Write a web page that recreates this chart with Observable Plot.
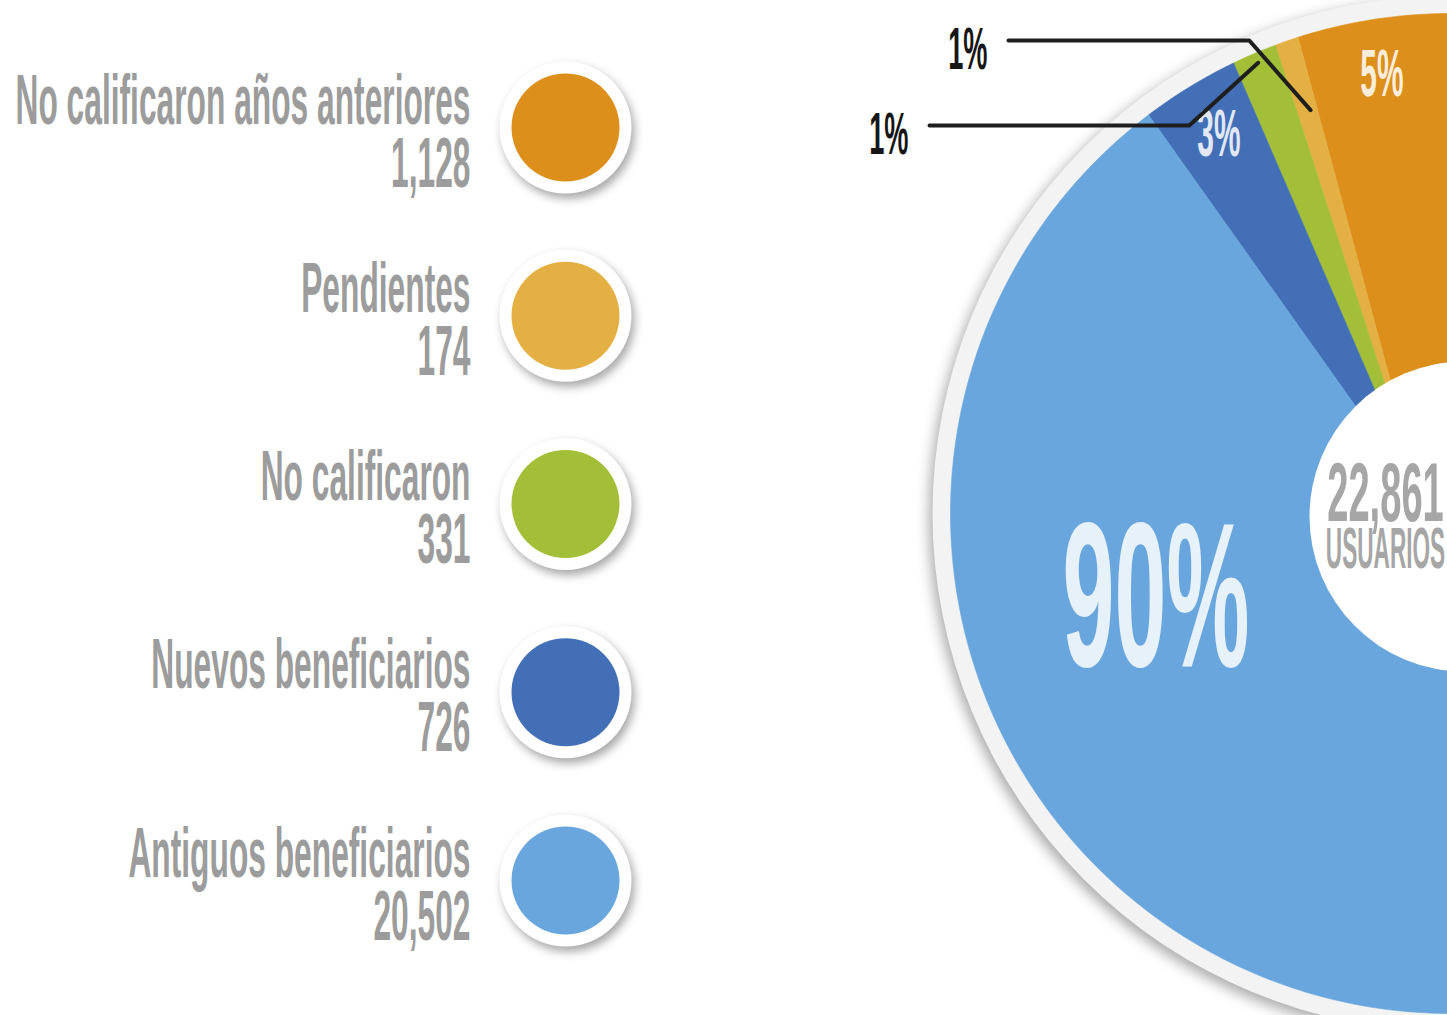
<!DOCTYPE html>
<html>
<head>
<meta charset="utf-8">
<script src="https://cdn.jsdelivr.net/npm/d3@7"></script>
<script src="https://cdn.jsdelivr.net/npm/@observablehq/plot@0.6"></script>
<style>
  html, body { margin: 0; padding: 0; background: #ffffff; overflow: hidden; }
  #chart svg { display: block; overflow: hidden; }
</style>
</head>
<body>
<div id="chart"></div>
<script>
// ---------------- data ----------------
const categories = [
  "No calificaron años anteriores",
  "Pendientes",
  "No calificaron",
  "Nuevos beneficiarios",
  "Antiguos beneficiarios"
];
const values = [1128, 174, 331, 726, 20502];
const colors = ["#dd8f1c", "#e5b043", "#a3bf37", "#436fb6", "#68a6dd"];
const centerLabel = "USUARIOS";

// ---------------- layout ----------------
const W = 1447, H = 1015;
const pieCenter = {x: 1450, y: 513};
const apex = {x: 1422, y: 500};          // where inner slice edges meet (hidden under the hole)
const R = 500, ringR = 518;
const hole = {x: 1464, y: 516, r: 155};
const labelR = 444;
const bigLabel = {angle: -106.4 * Math.PI / 180, r: 307};
const callouts = [
  {lineY: 40, endR: 427, textX: 987, slope: 0.88},
  {lineY: 125, endR: 490, textX: 908, slope: 1.1}
];
const legend = {x: 565, top: 127, step: 188.25, textX: 470, widest: 455};
const font = "'Liberation Sans Narrow', 'Liberation Sans', Arial, sans-serif";
const grey = "#9c9c9c";

const total = d3.sum(values);
const fmt = d3.format(",");
const pct = v => Math.round(v / total * 100) + "%";

const arcs = d3.pie().sort(null).startAngle(0).endAngle(-2 * Math.PI)(values);
const polar = (a, r) => ({x: pieCenter.x + r * Math.sin(a), y: pieCenter.y - r * Math.cos(a)});
const mid = a => (a.startAngle + a.endAngle) / 2;

// slice polygons
const slicePoints = [];
arcs.forEach((a, i) => {
  const key = categories[i];
  const p0 = i === 0 ? pieCenter : apex;
  const p1 = i === arcs.length - 1 ? pieCenter : apex;
  slicePoints.push({key, x: p0.x, y: p0.y});
  const n = Math.max(2, Math.ceil(Math.abs(a.endAngle - a.startAngle) / (Math.PI / 360)));
  for (let j = 0; j <= n; j++) {
    const t = a.startAngle + (a.endAngle - a.startAngle) * j / n;
    slicePoints.push({key, ...polar(t, R)});
  }
  slicePoints.push({key, x: p1.x, y: p1.y});
  if (p1 !== p0) slicePoints.push({key, x: p0.x, y: p0.y});
});

// inside labels
const insideLabels = [];
const smallSlices = [];
arcs.forEach((a, i) => {
  const share = values[i] / total;
  const light = d3.interpolateRgb(colors[i], "#ffffff")(0.84);
  if (share > 0.5) {
    insideLabels.push({text: pct(values[i]), ...polar(bigLabel.angle, bigLabel.r), size: 206, color: light});
  } else if (share >= 0.025) {
    insideLabels.push({text: pct(values[i]), ...polar(mid(a), labelR), size: 66, color: light});
  } else {
    smallSlices.push(i);
  }
});

// callouts for small slices
const calloutLines = [];
const calloutTexts = [];
smallSlices.forEach((i, k) => {
  const c = callouts[k];
  const end = polar(mid(arcs[i]), c.endR);
  const elbow = {x: end.x - Math.abs(end.y - c.lineY) * c.slope, y: c.lineY};
  const start = {x: c.textX + 21, y: c.lineY};
  [start, elbow, end].forEach(p => calloutLines.push({key: categories[i], ...p}));
  calloutTexts.push({text: pct(values[i]), x: c.textX, y: c.lineY + 9});
});

// legend rows
const legendRows = categories.map((key, i) => ({
  key, value: values[i], x: legend.x, y: legend.top + i * legend.step, tx: legend.textX
}));

// marks, each tagged with a role used for post-styling
const tagged = [
  ["ring", Plot.dot([pieCenter], {x: "x", y: "y", r: ringR, fill: "#f3f3f3", stroke: "none"})],
  ["", Plot.line(slicePoints, {x: "x", y: "y", z: "key", fill: "key", stroke: "key", strokeWidth: 0.6, curve: "linear"})],
  ["", Plot.dot([hole], {x: "x", y: "y", r: hole.r, fill: "#ffffff", stroke: "none"})],
  ["cond", Plot.text([{t: fmt(total), x: hole.x - 79, y: hole.y + 4}], {
      x: "x", y: "y", text: "t", textAnchor: "middle", lineAnchor: "bottom",
      fontSize: 84, fontFamily: font, fontWeight: "bold", fill: "#a6a6a6"})],
  ["cond-tight", Plot.text([{t: centerLabel, x: hole.x - 79, y: hole.y + 51}], {
      x: "x", y: "y", text: "t", textAnchor: "middle", lineAnchor: "bottom",
      fontSize: 58, fontFamily: font, fontWeight: "bold", fill: "#a6a6a6"})],
  ["cond", Plot.text(insideLabels, {
      x: "x", y: "y", text: "text", fill: d => d.color, fontSize: d => d.size,
      textAnchor: "middle", lineAnchor: "middle", fontFamily: font, fontWeight: "bold"})],
  ["", Plot.line(calloutLines, {x: "x", y: "y", z: "key", stroke: "#1e1e1e", strokeWidth: 4, curve: "linear"})],
  ["cond", Plot.text(calloutTexts, {
      x: "x", y: "y", text: "text", textAnchor: "end", lineAnchor: "middle",
      fontSize: 60, fontFamily: font, fontWeight: "bold", fill: "#161616"})],
  ["legend-ring", Plot.dot(legendRows, {x: "x", y: "y", r: 66, fill: "#ffffff", stroke: "none"})],
  ["", Plot.dot(legendRows, {x: "x", y: "y", r: 54, fill: "key", stroke: "none"})],
  ["cond-legend", Plot.text(legendRows, {
      x: "tx", y: d => d.y - 4, text: "key", textAnchor: "end", lineAnchor: "bottom",
      fontSize: 70, fontFamily: font, fontWeight: "bold", fill: grey})],
  ["cond", Plot.text(legendRows, {
      x: "tx", y: d => d.y + 59, text: d => fmt(d.value), textAnchor: "end", lineAnchor: "bottom",
      fontSize: 70, fontFamily: font, fontWeight: "bold", fill: grey})]
];

const chart = Plot.plot({
  width: W, height: H, margin: 0,
  x: {domain: [0, W], range: [0, W], axis: null},
  y: {domain: [0, H], range: [0, H], axis: null},
  color: {domain: categories, range: colors},
  style: {background: "#ffffff", overflow: "hidden"},
  marks: tagged.map(d => d[1])
});

document.getElementById("chart").append(chart);

// map roles to the rendered mark groups (one <g> per mark, in order)
const groups = Array.from(chart.children).filter(e => e.tagName.toLowerCase() === "g");
const byRole = {};
tagged.forEach(([role], i) => { if (role && groups[i]) (byRole[role] = byRole[role] || []).push(groups[i]); });

(byRole["ring"] || []).forEach(g => g.style.filter = "drop-shadow(-3px 5px 7px rgba(0,0,0,0.35))");
(byRole["legend-ring"] || []).forEach(g => g.style.filter = "drop-shadow(3px 5px 5px rgba(0,0,0,0.35))");

// condense all text to mimic the narrow display face
const probe = byRole["cond-legend"][0].querySelector("text");
const k = legend.widest / probe.getComputedTextLength();
["cond", "cond-tight", "cond-legend"].forEach(role => {
  const tight = role === "cond-tight" ? 0.86 : 1;
  (byRole[role] || []).forEach(g => g.querySelectorAll("text").forEach(t => {
    const w = t.getComputedTextLength();
    t.setAttribute("textLength", w * k * tight);
    t.setAttribute("lengthAdjust", "spacingAndGlyphs");
  }));
});
</script>
</body>
</html>
